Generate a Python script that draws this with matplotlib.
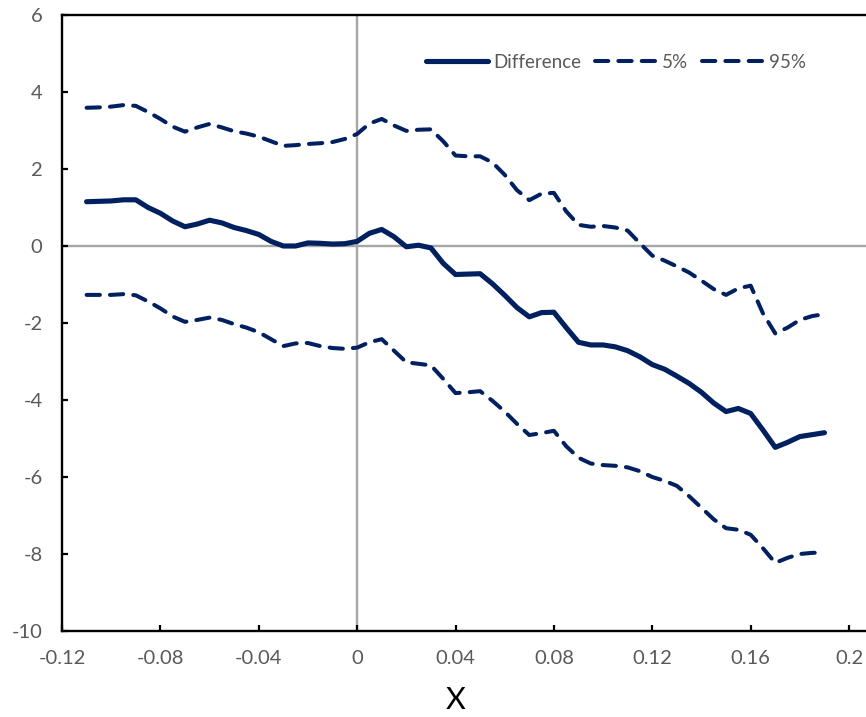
import matplotlib
matplotlib.use("Agg")
import matplotlib.pyplot as plt
from matplotlib.ticker import FixedLocator, FixedFormatter

plt.rcParams['font.family'] = ['Lato', 'DejaVu Sans']
plt.rcParams['axes.unicode_minus'] = False

x_values = [-0.110, -0.105, -0.100, -0.095, -0.090, -0.085, -0.080, -0.075, -0.070, -0.065,
            -0.060, -0.055, -0.050, -0.045, -0.040, -0.035, -0.030, -0.025, -0.020, -0.015,
            -0.010, -0.005, 0.000, 0.005, 0.010, 0.015, 0.020, 0.025, 0.030, 0.035,
            0.040, 0.045, 0.050, 0.055, 0.060, 0.065, 0.070, 0.075, 0.080, 0.085,
            0.090, 0.095, 0.100, 0.105, 0.110, 0.115, 0.120, 0.125, 0.130, 0.135,
            0.140, 0.145, 0.150, 0.155, 0.160, 0.165, 0.170, 0.175, 0.180, 0.185, 0.190]

difference = [1.15, 1.16, 1.17, 1.20, 1.20, 1.00, 0.85, 0.65, 0.50, 0.57,
              0.67, 0.60, 0.48, 0.40, 0.30, 0.12, 0.00, 0.00, 0.08, 0.07,
              0.05, 0.06, 0.12, 0.33, 0.43, 0.24, -0.02, 0.02, -0.05, -0.45,
              -0.74, -0.73, -0.72, -0.98, -1.28, -1.60, -1.84, -1.73, -1.72, -2.12,
              -2.50, -2.57, -2.57, -2.62, -2.72, -2.88, -3.08, -3.20, -3.38, -3.57,
              -3.80, -4.08, -4.30, -4.22, -4.35, -4.78, -5.23, -5.10, -4.95, -4.90, -4.85]

pct5 = [-1.27, -1.27, -1.27, -1.25, -1.28, -1.44, -1.62, -1.83, -1.97, -1.92,
        -1.86, -1.92, -2.03, -2.12, -2.24, -2.42, -2.60, -2.53, -2.52, -2.60,
        -2.65, -2.67, -2.64, -2.50, -2.42, -2.72, -3.02, -3.06, -3.10, -3.45,
        -3.82, -3.80, -3.77, -4.02, -4.30, -4.62, -4.91, -4.86, -4.80, -5.20,
        -5.50, -5.65, -5.69, -5.71, -5.75, -5.85, -6.00, -6.10, -6.23, -6.50,
        -6.80, -7.10, -7.33, -7.37, -7.50, -7.85, -8.23, -8.10, -8.00, -7.97, -7.96]

pct95 = [3.59, 3.60, 3.62, 3.66, 3.64, 3.48, 3.30, 3.10, 2.97, 3.08,
         3.17, 3.08, 2.98, 2.92, 2.84, 2.72, 2.60, 2.62, 2.65, 2.67,
         2.70, 2.78, 2.91, 3.18, 3.30, 3.13, 2.99, 3.02, 3.03, 2.72,
         2.35, 2.33, 2.33, 2.17, 1.85, 1.45, 1.19, 1.36, 1.38, 0.90,
         0.55, 0.50, 0.52, 0.48, 0.40, 0.07, -0.25, -0.38, -0.53, -0.69,
         -0.90, -1.12, -1.27, -1.10, -1.03, -1.75, -2.27, -2.12, -1.92, -1.82, -1.77]

x_ticks = [-0.12, -0.08, -0.04, 0.0, 0.04, 0.08, 0.12, 0.16, 0.2]
x_tick_labels = ["-0.12", "-0.08", "-0.04", "0", "0.04", "0.08", "0.12", "0.16", "0.2"]
y_ticks = [-10, -8, -6, -4, -2, 0, 2, 4, 6]
y_tick_labels = ["-10", "-8", "-6", "-4", "-2", "0", "2", "4", "6"]
series_names = ["Difference", "5%", "95%"]

navy = "#002060"
gray_txt = "#595959"

fig = plt.figure(figsize=(8.66, 7.17), dpi=100)
ax = fig.add_axes([62/866, 1 - 631/717, 1 - 62/866, (631 - 15)/717])

ax.axhline(0, color="#A6A6A6", lw=1.7, zorder=1)
ax.axvline(0, color="#A6A6A6", lw=1.7, zorder=1)

ax.plot(x_values, difference, color=navy, lw=3.7, solid_capstyle='round',
        solid_joinstyle='round', label=series_names[0], zorder=3)
ax.plot(x_values, pct5, color=navy, lw=2.9, linestyle=(0, (3.3, 2.5)),
        dash_capstyle='round', dash_joinstyle='round', label=series_names[1], zorder=3)
ax.plot(x_values, pct95, color=navy, lw=2.9, linestyle=(0, (3.3, 2.5)),
        dash_capstyle='round', dash_joinstyle='round', label=series_names[2], zorder=3)

ax.set_xlim(-0.12, 0.2069)
ax.set_ylim(-10, 6)

ax.xaxis.set_major_locator(FixedLocator(x_ticks))
ax.xaxis.set_major_formatter(FixedFormatter(x_tick_labels))
ax.yaxis.set_major_locator(FixedLocator(y_ticks))
ax.yaxis.set_major_formatter(FixedFormatter(y_tick_labels))

ax.tick_params(axis='both', direction='in', length=4.5, width=1.6, color='black',
               labelsize=14.5, labelcolor=gray_txt, pad=14)

for side in ['left', 'bottom', 'top']:
    ax.spines[side].set_color('black')
    ax.spines[side].set_linewidth(1.7)
ax.spines['right'].set_visible(False)

ax.set_xlabel("X", fontsize=22, color='black')
ax.xaxis.set_label_coords((456 - 62) / (866 - 62), (631 - 686) / 616)
ax.xaxis.label.set_va('top')

leg = ax.legend(loc='center right', bbox_to_anchor=((806 - 62) / (866 - 62), 1 - (62 - 15) / 616),
                ncol=3, frameon=False, fontsize=13.5, handlelength=3.3, handletextpad=0.3,
                columnspacing=0.7, borderaxespad=0, borderpad=0)
for t in leg.get_texts():
    t.set_color(gray_txt)

fig.savefig("out.png", dpi=100)
